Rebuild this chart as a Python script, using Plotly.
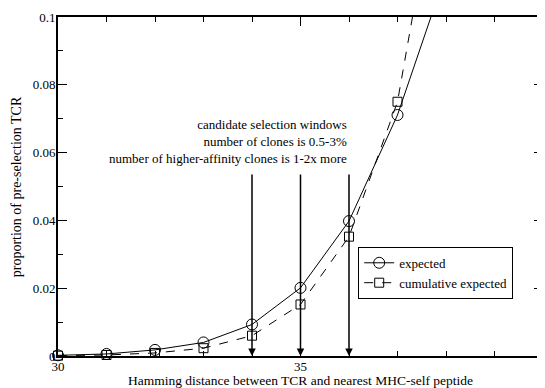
import plotly.graph_objects as go

distance = [30, 31, 32, 33, 34, 35, 36, 37, 38]
expected = [0.0002, 0.0006, 0.0018, 0.0040, 0.0093, 0.0201, 0.0398, 0.0711, 0.113]
cumulative = [0.0001, 0.0003, 0.0009, 0.0023, 0.0060, 0.0152, 0.0352, 0.0750, 0.156]
window_x = [34, 35, 36]
note_lines = ["candidate selection windows",
              "number of clones is 0.5-3%",
              "number of higher-affinity clones is 1-2x more"]
x_ticks = [30, 35, 40]
y_ticks = [0, 0.02, 0.04, 0.06, 0.08, 0.1]
y_ticklabels = ["0", "0.02", "0.04", "0.06", "0.08", "0.1"]
x_title = "Hamming distance between TCR and nearest MHC-self peptide"
y_title = "proportion of pre-selection TCR"

FONT = "Liberation Serif"

fig = go.Figure()
fig.add_trace(go.Scatter(
    x=distance, y=expected, name="expected", mode="lines+markers",
    line=dict(color="black", width=1),
    marker=dict(symbol="circle-open", size=11, color="black", line=dict(width=1)),
    cliponaxis=False))
fig.add_trace(go.Scatter(
    x=distance, y=cumulative, name="cumulative expected", mode="lines+markers",
    line=dict(color="black", width=1, dash="dash"),
    marker=dict(symbol="square-open", size=9, color="black", line=dict(width=1)),
    cliponaxis=False))

annotations = []
for wx in window_x:
    annotations.append(dict(
        x=wx, y=0, ax=wx, ay=0.054, xref="x", yref="y", axref="x", ayref="y",
        showarrow=True, arrowhead=2, arrowsize=1, arrowwidth=1.5,
        arrowcolor="black", text=""))
annotations.append(dict(
    x=36, y=0.0555, xref="x", yref="y", xanchor="right", yanchor="bottom",
    align="right", showarrow=False, text="<br>".join(note_lines),
    font=dict(family=FONT, size=13, color="black")))
annotations.append(dict(
    x=-0.085, y=0.5, xref="paper", yref="paper", xanchor="center", yanchor="middle",
    textangle=-90, showarrow=False, text=y_title,
    font=dict(family=FONT, size=14, color="black")))

axis_common = dict(
    showgrid=False, zeroline=False, showline=True, linecolor="black",
    linewidth=2, mirror="allticks", ticks="inside", ticklen=9,
    tickwidth=1, tickcolor="black", automargin=False,
    tickfont=dict(family=FONT, size=13, color="black"))

# The page body has an 8px margin, so the figure is sized to fit the window.
fig.update_layout(
    width=537, height=380,
    margin=dict(l=50, r=2, t=9, b=32),
    plot_bgcolor="white", paper_bgcolor="white",
    font=dict(family=FONT, size=13, color="black"),
    xaxis=dict(range=[30, 40], tickvals=x_ticks, ticklabelstandoff=-3,
               minor=dict(dtick=1, ticks="inside", ticklen=5, tickcolor="black"),
               title=dict(text=x_title, font=dict(family=FONT, size=13.5), standoff=2),
               **axis_common),
    yaxis=dict(range=[0, 0.1], tickvals=y_ticks, ticktext=y_ticklabels,
               ticklabelstandoff=-2,
               minor=dict(dtick=0.01, ticks="inside", ticklen=5, tickcolor="black"),
               **axis_common),
    legend=dict(x=0.619, y=0.322, xanchor="left", yanchor="top",
                bordercolor="black", borderwidth=1, bgcolor="white",
                font=dict(family=FONT, size=13), tracegroupgap=0, itemwidth=30),
    annotations=annotations,
    showlegend=True,
)

fig.write_html("out.html")
